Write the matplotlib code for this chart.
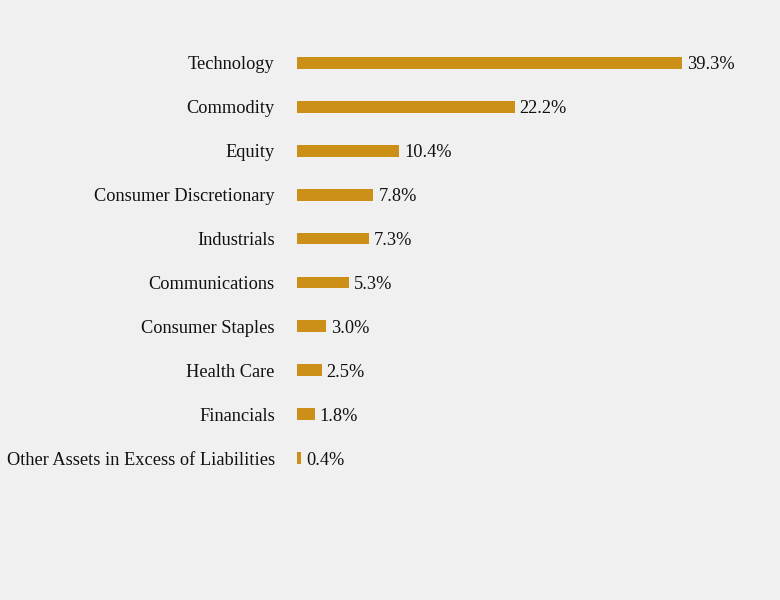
import matplotlib
matplotlib.use("Agg")
import matplotlib.pyplot as plt

categories = ["Technology", "Commodity", "Equity", "Consumer Discretionary", "Industrials",
              "Communications", "Consumer Staples", "Health Care", "Financials",
              "Other Assets in Excess of Liabilities"]
values = [39.3, 22.2, 10.4, 7.8, 7.3, 5.3, 3.0, 2.5, 1.8, 0.4]
value_labels = ["39.3%", "22.2%", "10.4%", "7.8%", "7.3%", "5.3%", "3.0%", "2.5%", "1.8%", "0.4%"]

bg = "#f0f0f0"
bar_color = "#cc8f17"
fs = 13.2

fig = plt.figure(figsize=(7.8, 6.0), dpi=100, facecolor=bg)
ax = fig.add_axes([297/780, 0.2, 483/780, 439/600])
ax.set_facecolor(bg)

y = list(range(len(categories)))
ax.barh(y, values, height=0.27, color=bar_color)
ax.set_ylim(9.5, -0.5)
ax.set_xlim(0, 483/9.8)

for yi, v, lab in zip(y, values, value_labels):
    ax.annotate(lab, xy=(v, yi), xytext=(3.6, 0), textcoords="offset points",
                va="center_baseline", ha="left", fontsize=fs, family="Liberation Serif",
                color="#111111")

ax.set_yticks(y)
ax.set_yticklabels(categories, fontsize=fs, family="Liberation Serif", color="#111111",
                   va="center_baseline")
ax.tick_params(axis="y", length=0, pad=16)
ax.set_xticks([])
for s in ax.spines.values():
    s.set_visible(False)

fig.savefig("out.png", dpi=100, facecolor=bg)
